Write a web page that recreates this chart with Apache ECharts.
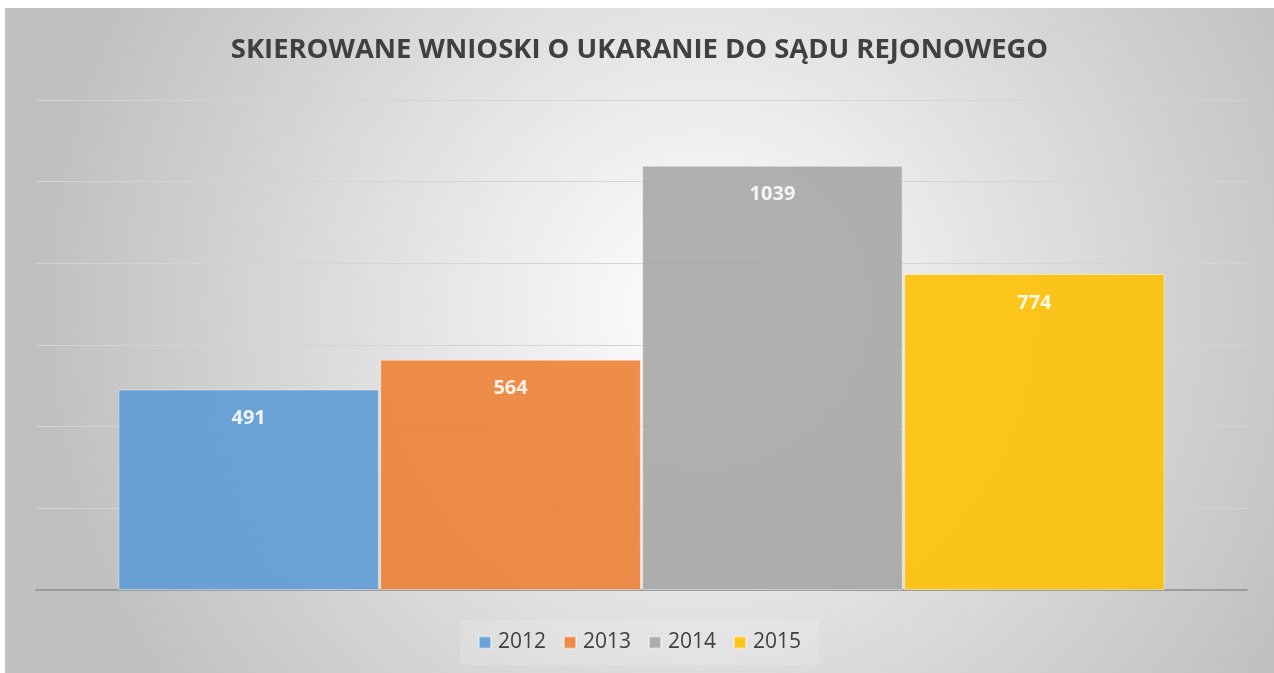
<!DOCTYPE html>
<html><head><meta charset="utf-8">
<script src="https://cdn.jsdelivr.net/npm/echarts@6/dist/echarts.min.js"></script>
<style>html,body{margin:0;padding:0;background:#fff;}#c{position:absolute;left:5px;top:8px;width:1269px;height:665px;}</style>
</head><body><div id="c"></div>
<script>
const titleText = 'SKIEROWANE WNIOSKI O UKARANIE DO SĄDU REJONOWEGO';
const categories = [''];
const seriesNames = ['2012', '2013', '2014', '2015'];
const values2012 = [491];
const values2013 = [564];
const values2014 = [1039];
const values2015 = [774];
const seriesValues = [values2012, values2013, values2014, values2015];
const colors = ['#5B9BD5', '#ED7D31', '#A5A5A5', '#FFC000'];

const chart = echarts.init(document.getElementById('c'));
chart.setOption({
  backgroundColor: {
    type: 'radial', x: 0.55, y: 0.45, r: 1.0,
    colorStops: [{offset: 0, color: '#ffffff'}, {offset: 1, color: '#c0c0c0'}]
  },
  title: {
    text: titleText, left: 'center', top: 24,
    textStyle: {fontFamily: 'Open Sans', fontWeight: 'bold', fontSize: 27.4, color: '#404040'}
  },
  legend: {
    bottom: 8, left: 'center', itemWidth: 12, itemHeight: 12, itemGap: 17,
    icon: 'rect', padding: [12, 18],
    backgroundColor: 'rgba(255,255,255,0.15)',
    textStyle: {fontFamily: 'Open Sans', fontSize: 21, color: '#404040', padding: [0, 0, 0, 2]}
  },
  grid: {left: 31, right: 27, top: 92, bottom: 83},
  xAxis: {
    type: 'category', data: categories,
    axisLine: {lineStyle: {color: '#8a8a8a', width: 1.5}},
    axisTick: {show: false}, axisLabel: {show: false}
  },
  yAxis: {
    type: 'value', min: 0, max: 1200, interval: 200,
    axisLine: {show: false}, axisTick: {show: false}, axisLabel: {show: false},
    splitLine: {lineStyle: {color: '#d4d4d4', width: 1}}
  },
  series: seriesNames.map((n, i) => ({
    name: n, type: 'bar', data: seriesValues[i],
    barGap: '0.5%', barCategoryGap: '13.6%',
    itemStyle: {color: colors[i], opacity: 0.88, borderColor: 'rgba(255,255,255,0.5)', borderWidth: 1},
    label: {show: true, position: 'insideTop', distance: 19, color: '#ffffff',
      fontFamily: 'Open Sans', fontWeight: 'bold', fontSize: 20}
  }))
});
</script></body></html>
